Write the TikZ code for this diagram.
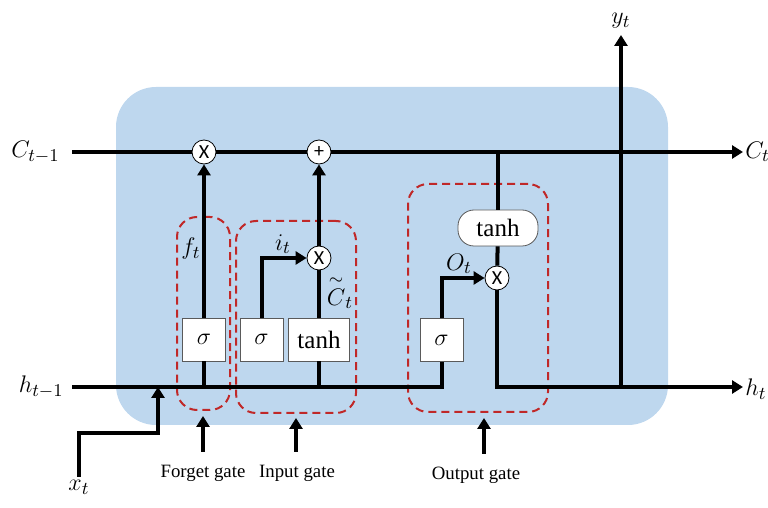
\documentclass[tikz,border=0pt]{standalone}
\usepackage{amsmath}
\usepackage{fontspec}
\setmainfont{Liberation Serif}
\setsansfont{Carlito}
\usetikzlibrary{arrows.meta,positioning,calc}
\definecolor{cellblue}{RGB}{190,215,238}
\definecolor{gatered}{RGB}{192,40,40}
\definecolor{boxgray}{RGB}{90,90,90}
\tikzset{
  layer/.style={draw=boxgray,thin,fill=white,minimum width=21.5pt,
    minimum height=21.5pt,inner sep=0pt,font=\fontsize{12.5}{14}\selectfont},
  pointwise/.style={circle,draw=black,thin,fill=white,minimum size=12pt,
    inner sep=0pt,font=\sffamily\fontsize{10}{10}\selectfont},
  gatefence/.style={draw=gatered,line width=1pt,dash pattern=on 4pt off 2.5pt,
    rounded corners=10pt,inner sep=0pt},
  wire/.style={line width=2pt},
  flow/.style={line width=2pt,-{Triangle[length=5.5pt,width=6.5pt]}},
  lbl/.style={inner sep=1pt,font=\fontsize{13}{15}\selectfont},
  caption/.style={font=\fontsize{9.4}{11}\selectfont}
}
\begin{document}
\begin{tikzpicture}[x=0.5pt,y=-0.5pt]
\useasboundingbox (0,0) rectangle (768,508);
% cell body
\fill[cellblue,rounded corners=20pt] (116,87) rectangle (668,425);
% gate fences
\node[gatefence,minimum width=26.5pt,minimum height=96.5pt] (ffence) at (203.5,313.5) {};
\node[gatefence,minimum width=60pt,minimum height=96pt] (ifence) at (296,317) {};
\node[gatefence,minimum width=70pt,minimum height=114pt] (ofence) at (478,298) {};
% outer labels
\node[lbl,anchor=east,inner xsep=6pt] (cprev) at (72,152) {$C_{t-1}$};
\node[lbl,anchor=west] (cnext) at (743,152) {$C_t$};
\node[lbl,anchor=east,inner xsep=4pt] (hprev) at (72,387) {$h_{t-1}$};
\node[lbl,anchor=west] (hnext) at (743,389) {$h_t$};
\node[lbl,anchor=south,inner ysep=3pt] (yt) at (621,35) {$y_t$};
\node[lbl,anchor=north,inner ysep=1.5pt] (xt) at (79,477) {$x_t$};
% pointwise ops
\node[pointwise] (fx) at (204,152) {X};
\node[pointwise] (cplus) at (319,152) {+};
\node[pointwise] (ix) at (319,258) {X};
\node[pointwise] (ox) at (497,278) {X};
% layers
\node[layer] (fsig) at (204,339.5) {$\sigma$};
\node[layer] (isig) at (261.5,339.5) {$\sigma$};
\node[layer,minimum width=30.5pt] (itanh) at (319,339.5) {tanh};
\node[layer] (osig) at (441.5,340) {$\sigma$};
\node[layer,rounded corners=8pt,minimum width=40pt,minimum height=18pt] (otanh) at (498,228) {tanh};
% gate outputs
\node[lbl] (ft) at (191,249) {$f_t$};
\node[lbl] (it) at (283,244) {$i_t$};
\node[lbl] (ot) at (459,264) {$O_t$};
\node[lbl] (ctil) at (340,292) {$\overset{\sim}{C}_t$};
% cell state
\draw[wire] (cprev) -- (fx);
\draw[wire] (fx) -- (cplus);
\draw[flow] (cplus) -- (cnext);
% hidden state in
\draw[wire] (hprev) -- (hprev -| osig) -- (osig);
\draw[wire] (fsig) -- (fsig |- hprev);
\draw[wire] (itanh) -- (itanh |- hprev);
\coordinate (xbend) at (158,433);
\draw[flow] (xt) |- (xbend) -- (xbend |- hprev);
% gates
\draw[flow] (fsig) -- (fx);
\draw[flow] (isig) |- (ix);
\draw[wire] (itanh) -- (ix);
\draw[flow] (ix) -- (cplus);
\draw[flow] (osig) |- (ox);
\draw[wire] (otanh) -- (ox);
\draw[wire] (otanh) -- (otanh |- cplus);
% hidden state out
\draw[flow] (ox) |- (hnext.west |- hprev);
\draw[flow] (yt |- hprev) -- (yt);
% gate names
\node[caption] (fgate) at (203,473) {Forget gate};
\node[caption] (igate) at (297,473) {Input gate};
\node[caption] (ogate) at (476,475) {Output gate};
\draw[flow,shorten <=3pt,shorten >=2.5pt] (fgate.north) -- (fgate.north |- ffence.south);
\draw[flow,shorten <=3pt,shorten >=2pt] (ifence.south |- igate.north) -- (ifence.south);
\draw[flow,shorten <=3pt,shorten >=2.5pt] ([xshift=4pt]ogate.north) -- ([xshift=4pt]ogate.north |- ofence.south);
\end{tikzpicture}
\end{document}
